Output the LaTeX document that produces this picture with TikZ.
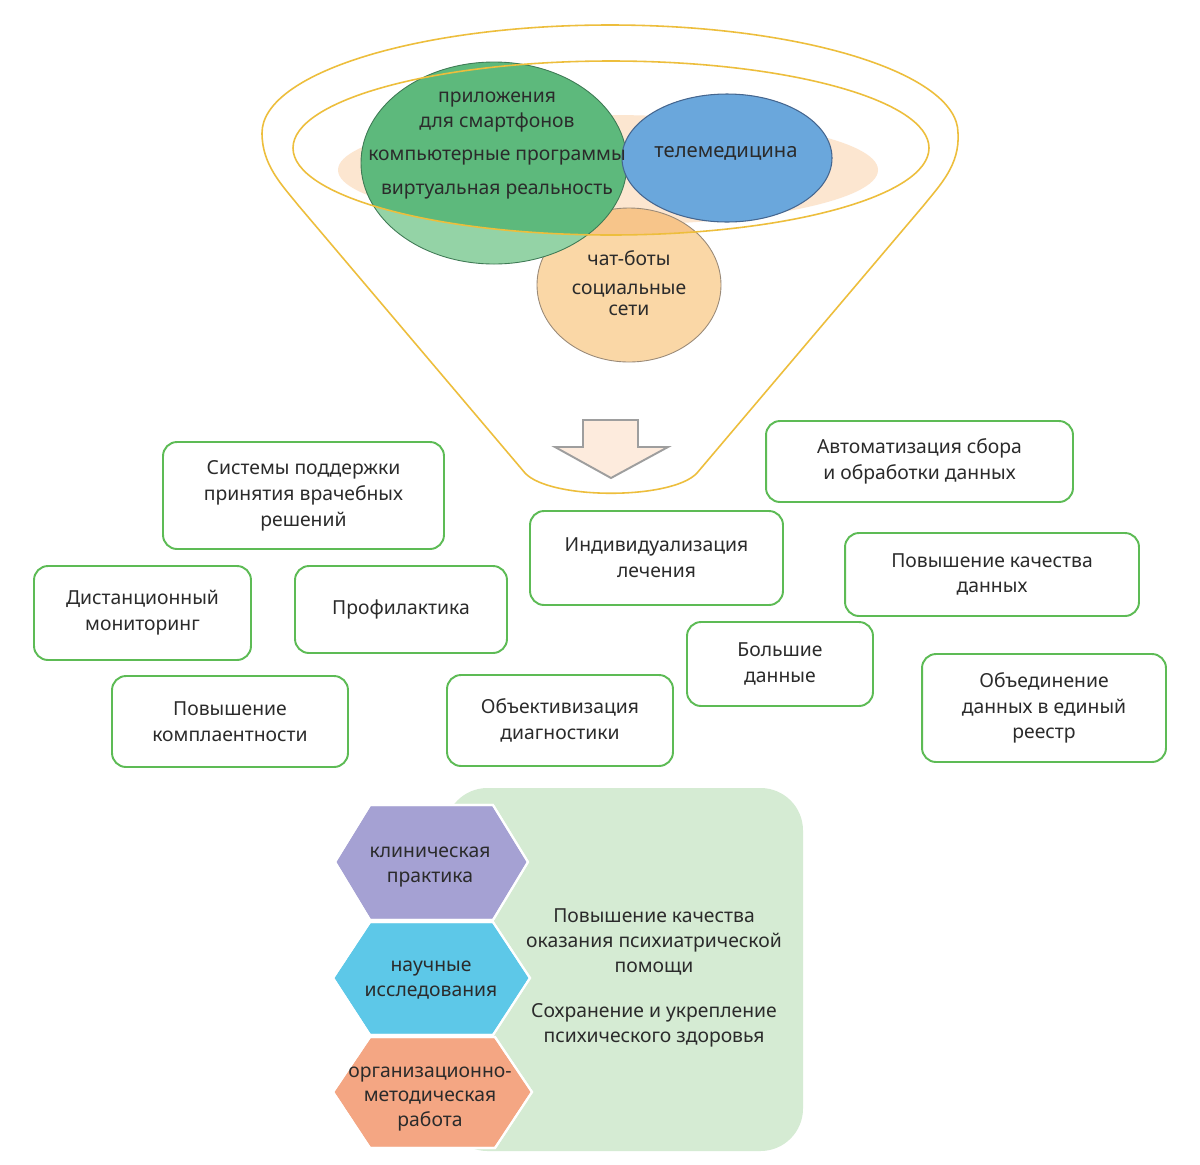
\documentclass[tikz,border=0pt]{standalone}
\usepackage{fontspec}
\setmainfont{Noto Sans}
\definecolor{textc}{HTML}{2B2B2B}
\definecolor{boxgreen}{HTML}{5DBB55}
\definecolor{gold}{HTML}{EDBE3C}
\definecolor{peach}{HTML}{FCE6D0}
\definecolor{greendark}{HTML}{5DB97C}
\definecolor{greenlight}{HTML}{94D3A6}
\definecolor{greenedge}{HTML}{3F7A55}
\definecolor{bluefill}{HTML}{6AA7DC}
\definecolor{blueedge}{HTML}{45668F}
\definecolor{orangefill}{HTML}{FAD7A6}
\definecolor{orangedark}{HTML}{F7C58A}
\definecolor{orangeedge}{HTML}{9A8A78}
\definecolor{arrowfill}{HTML}{FDEBDD}
\definecolor{arrowedge}{HTML}{9E9E9E}
\definecolor{bggreen}{HTML}{D5EBD3}
\definecolor{hexpurple}{HTML}{A5A1D3}
\definecolor{hexblue}{HTML}{5DC8E8}
\definecolor{hexorange}{HTML}{F4A683}
\begin{document}
\begin{tikzpicture}[x=0.02cm,y=-0.02cm,
  txt/.style={font=\fontsize{11}{14.7}\selectfont, text=textc, align=center, inner sep=0pt},
  box/.style={draw=boxgreen, line width=1.1pt, rounded corners=0.28cm, fill=white,
    align=center, text=textc, font=\fontsize{11}{14.7}\selectfont, inner sep=2pt},
  hexa/.style={draw=white, line width=1.2pt}]
\useasboundingbox (0,0) rectangle (1200,1164);
\fill[white] (0,0) rectangle (1200,1164);

% funnel
\draw[gold, line width=0.9pt] (262,133) arc[start angle=180, end angle=360, x radius=348, y radius=108]
  .. controls (960,165) and (940,185) .. (924,205)
  -- (697,473)
  .. controls (672,500) and (550,500) .. (525,473)
  -- (298,205)
  .. controls (282,185) and (262,165) .. (262,133) -- cycle;

% soft peach ellipse
\fill[peach] (608,170) ellipse [x radius=270, y radius=55];

% orange circle
\fill[orangefill] (629,285) ellipse [x radius=92, y radius=77];
\begin{scope}
  \clip (611,148) ellipse [x radius=318, y radius=87];
  \fill[orangedark] (629,285) ellipse [x radius=92, y radius=77];
\end{scope}
\draw[orangeedge, line width=0.5pt] (629,285) ellipse [x radius=92, y radius=77];

% green circle
\fill[greenlight] (494,163) ellipse [x radius=133, y radius=101];
\begin{scope}
  \clip (929,148) arc[start angle=0, end angle=180, x radius=318, y radius=87] -- (293,0) -- (929,0) -- cycle;
  \fill[greendark] (494,163) ellipse [x radius=133, y radius=101];
\end{scope}
\draw[greenedge, line width=0.5pt] (494,163) ellipse [x radius=133, y radius=101];

% blue circle
\fill[bluefill] (727,158) ellipse [x radius=105, y radius=64];
\draw[blueedge, line width=0.6pt] (727,158) ellipse [x radius=105, y radius=64];

% inner gold ellipse
\draw[gold, line width=0.9pt] (611,148) ellipse [x radius=318, y radius=87];

% circle texts
\node[txt] (t1) at (497,112) {приложения\\для смартфонов};
\node[txt] (t2) at (497,158) {компьютерные программы};
\node[txt] (t3) at (497,192) {виртуальная реальность};
\node[txt, font=\fontsize{11.5}{15}\selectfont] (t4) at (726,153) {телемедицина};
\node[txt] (t5) at (629,258) {чат-боты};
\node[txt, font=\fontsize{11}{12}\selectfont] (t6) at (629,300) {социальные\\сети};

% block arrow
\draw[arrowedge, fill=arrowfill, line width=1.1pt, line join=miter]
  (583,420) -- (638,420) -- (638,447) -- (668,447) -- (611,478) -- (555,447) -- (583,447) -- cycle;

% boxes
\node[box, minimum width=5.62cm, minimum height=2.14cm] (b1) at (303.5,495.5) {Системы поддержки\\принятия врачебных\\решений};
\node[box, minimum width=4.34cm, minimum height=1.88cm] (b2) at (142.5,613) {Дистанционный\\мониторинг};
\node[box, minimum width=4.24cm, minimum height=1.74cm] (b3) at (401,609.5) {Профилактика};
\node[box, minimum width=4.72cm, minimum height=1.82cm] (b4) at (230,721.5) {Повышение\\комплаентности};
\node[box, minimum width=4.52cm, minimum height=1.82cm] (b5) at (560,720.5) {Объективизация\\диагностики};
\node[box, minimum width=5.06cm, minimum height=1.88cm] (b6) at (656.5,558) {Индивидуализация\\лечения};
\node[box, minimum width=3.72cm, minimum height=1.68cm] (b7) at (780,664) {Большие\\данные};
\node[box, minimum width=6.14cm, minimum height=1.62cm] (b8) at (919.5,461.5) {Автоматизация сбора\\и обработки данных};
\node[box, minimum width=5.88cm, minimum height=1.66cm] (b9) at (992,574.5) {Повышение качества\\данных};
\node[box, minimum width=4.88cm, minimum height=2.16cm] (b10) at (1044,708) {Объединение\\данных в единый\\реестр};

% bottom panel
\fill[bggreen, rounded corners=0.85cm] (445,788) rectangle (803,1151);
\fill[hexpurple, hexa] (335,862) -- (370,805) -- (493,805) -- (528,862) -- (493,920) -- (370,920) -- cycle;
\fill[hexblue, hexa] (333,978) -- (370,922) -- (493,922) -- (530,978) -- (493,1035) -- (370,1035) -- cycle;
\fill[hexorange, hexa] (333,1092) -- (370,1037) -- (495,1037) -- (532,1092) -- (495,1148) -- (370,1148) -- cycle;
\draw[hexa] (335,862) -- (370,805) -- (493,805) -- (528,862) -- (493,920) -- (370,920) -- cycle;
\draw[hexa] (333,978) -- (370,922) -- (493,922) -- (530,978) -- (493,1035) -- (370,1035) -- cycle;
\draw[hexa] (333,1092) -- (370,1037) -- (495,1037) -- (532,1092) -- (495,1148) -- (370,1148) -- cycle;

\node[txt, font=\fontsize{11}{14}\selectfont] (h1) at (430,867) {клиническая\\практика};
\node[txt, font=\fontsize{11}{14}\selectfont] (h2) at (431,980) {научные\\исследования};
\node[txt, font=\fontsize{11}{14}\selectfont] (h3) at (430,1099) {организационно-\\методическая\\работа};

\node[txt, font=\fontsize{11}{14}\selectfont] (g1) at (654,942) {Повышение качества\\оказания психиатрической\\помощи};
\node[txt, font=\fontsize{11}{14}\selectfont] (g2) at (654,1025.5) {Сохранение и укрепление\\психического здоровья};
\end{tikzpicture}
\end{document}
